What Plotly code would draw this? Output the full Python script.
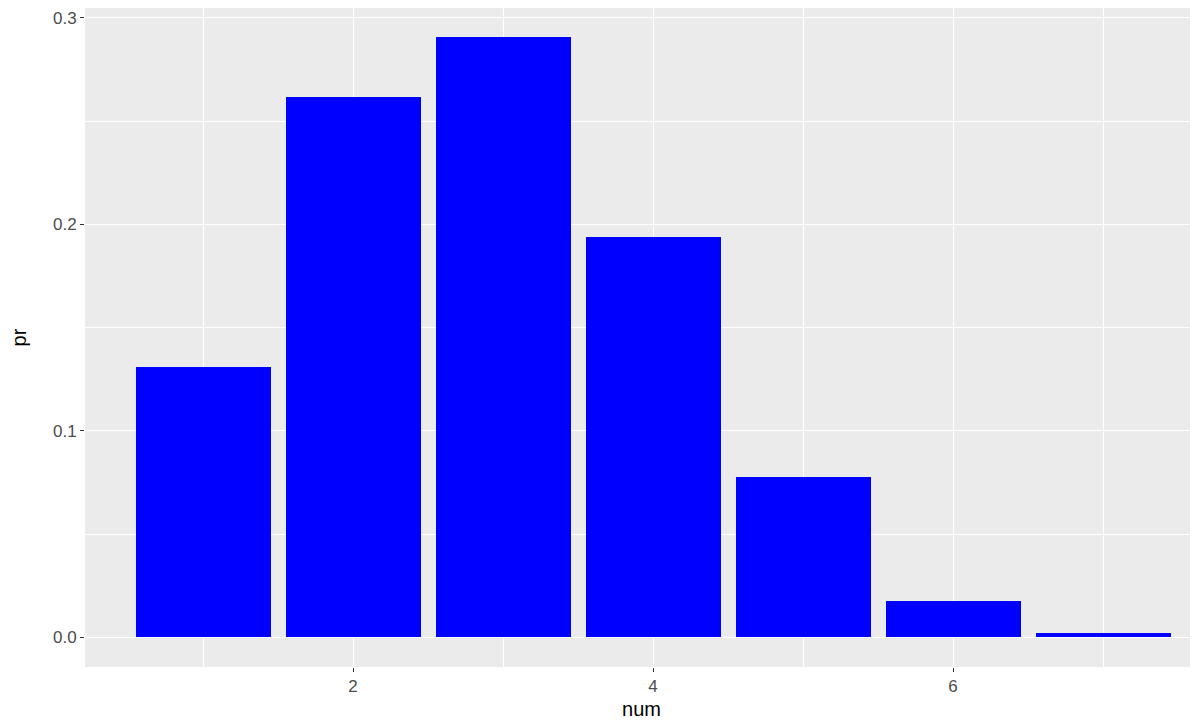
import plotly.graph_objects as go

num = [1, 2, 3, 4, 5, 6, 7]
pr = [0.1309, 0.2617, 0.2908, 0.1939, 0.0776, 0.0174, 0.0019]

x_ticks = [2, 4, 6]
y_ticks = [0.0, 0.1, 0.2, 0.3]
y_labels = ["0.0", "0.1", "0.2", "0.3"]

fig = go.Figure()
fig.add_trace(go.Bar(x=num, y=pr, width=0.9, marker=dict(color="#0000FF", line=dict(width=0))))

# page body has an 8px margin, so the figure is sized to sit inside the window
fig.update_layout(
    width=1190, height=719,
    margin=dict(l=77, r=0, t=0, b=60, autoexpand=False),
    paper_bgcolor="white",
    plot_bgcolor="#EBEBEB",
    font=dict(family="Liberation Sans, Arial, sans-serif", size=17, color="#4D4D4D"),
    showlegend=False,
    bargap=0,
)
fig.update_xaxes(
    range=[0.2133, 7.633],
    tickvals=x_ticks, ticktext=[str(v) for v in x_ticks],
    showgrid=True, gridcolor="white", gridwidth=1.4,
    minor=dict(tickvals=[1, 3, 5, 7], showgrid=True, gridcolor="white", gridwidth=0.7, ticklen=0),
    ticks="outside", ticklen=4, tickcolor="#333333", tickwidth=1.2,
    zeroline=False, showline=False, automargin=False,
    title=dict(text="num", font=dict(size=20, color="#000000"), standoff=6),
    tickfont=dict(size=17, color="#4D4D4D"),
)
fig.update_yaxes(
    range=[-0.01439, 0.30484],
    tickvals=y_ticks, ticktext=y_labels,
    showgrid=True, gridcolor="white", gridwidth=1.4,
    minor=dict(tickvals=[0.05, 0.15, 0.25], showgrid=True, gridcolor="white", gridwidth=0.7, ticklen=0),
    ticks="outside", ticklen=4, tickcolor="#333333", tickwidth=1.2,
    zeroline=False, showline=False, automargin=False,
    title=dict(text="pr", font=dict(size=20, color="#000000"), standoff=22),
    tickfont=dict(size=17, color="#4D4D4D"),
)

fig.write_html("out.html")
